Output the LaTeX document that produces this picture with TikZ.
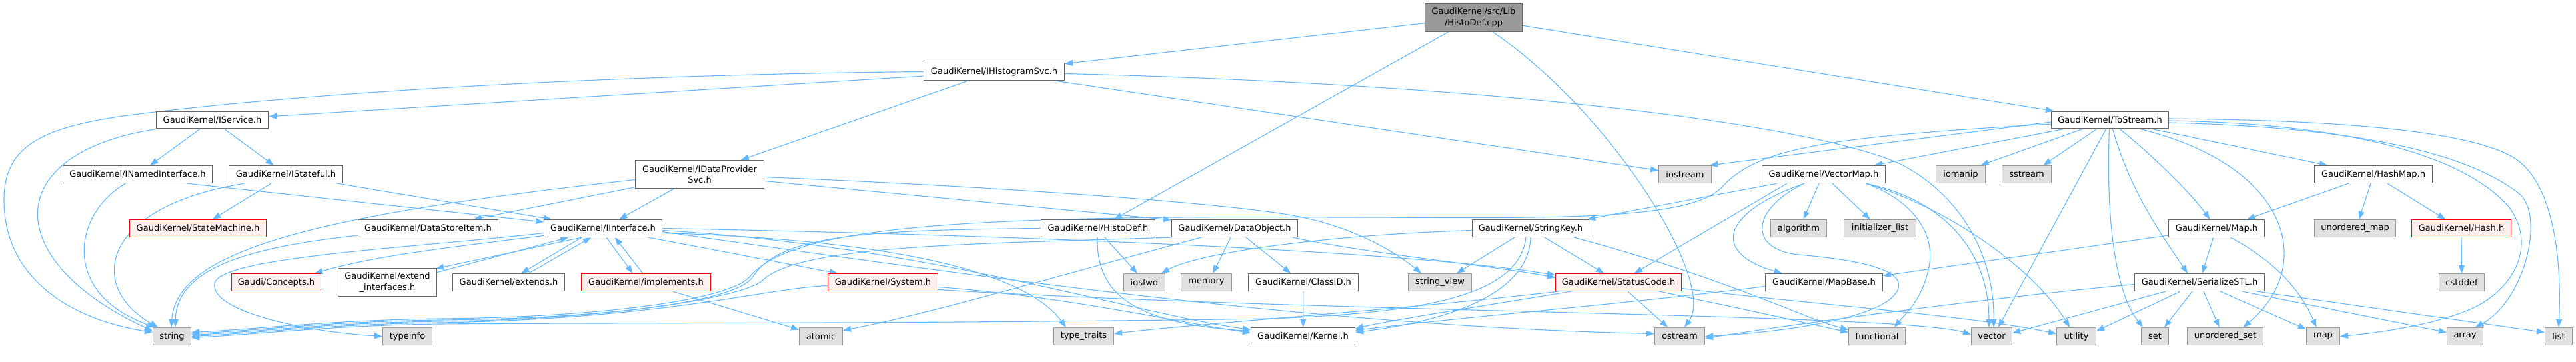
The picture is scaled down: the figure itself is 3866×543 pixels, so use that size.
\documentclass[tikz,border=0pt]{standalone}
\usepackage{fontspec}
\setmainfont{DejaVu Sans}
\usetikzlibrary{calc,arrows.meta}
\pgfdeclarelayer{bg}
\pgfsetlayers{bg,main}
\definecolor{edgecol}{HTML}{63B8FF}
\definecolor{ndborder}{HTML}{666666}
\definecolor{sysborder}{HTML}{999999}
\definecolor{sysfill}{HTML}{E0E0E0}
\definecolor{redfill}{HTML}{FFF0F0}
\definecolor{redborder}{HTML}{FF0000}
\definecolor{rootfill}{HTML}{999999}
\newcommand{\dfont}{\fontsize{13}{16.5}\selectfont}
\tikzset{
  nd/.style={draw=ndborder, fill=white, line width=1.2pt, inner sep=0pt, font=\dfont, align=center, minimum height=26pt},
  sysnd/.style={nd, draw=sysborder, fill=sysfill},
  rednd/.style={nd, draw=redborder, fill=redfill},
  rootnd/.style={nd, draw=ndborder, fill=rootfill},
  e/.style={draw=edgecol, line width=1.1pt, -{Triangle[length=12pt,width=9pt]}},
}
\begin{document}
\begin{tikzpicture}[x=1pt,y=-1pt]
\path[use as bounding box] (0,0) rectangle (3866,543);
% row 0
\node[rootnd, minimum width=146pt, minimum height=42pt] (cpp) at (2211.5,26.5) {GaudiKernel/src/Lib\\/HistoDef.cpp};
% row 1
\node[nd, minimum width=211pt] (ihs) at (1492,107.5) {GaudiKernel/IHistogramSvc.h};
% row 2
\node[nd, minimum width=168pt] (isvc) at (318.5,180) {GaudiKernel/IService.h};
\node[nd, minimum width=176pt] (tostr) at (3166.5,180) {GaudiKernel/ToStream.h};
% row 3
\node[nd, minimum width=224pt] (inamed) at (206.5,261.5) {GaudiKernel/INamedInterface.h};
\node[nd, minimum width=171pt] (istate) at (429,261.5) {GaudiKernel/IStateful.h};
\node[nd, minimum width=193pt, minimum height=42pt] (idp) at (1050,261.5) {GaudiKernel/IDataProvider\\Svc.h};
\node[sysnd, minimum width=79pt] (iostr) at (2529,261.5) {iostream};
\node[nd, minimum width=185pt] (vmap) at (2737,261.5) {GaudiKernel/VectorMap.h};
\node[sysnd, minimum width=74pt] (iomanip) at (2942.5,261.5) {iomanip};
\node[sysnd, minimum width=74pt] (sstream) at (3041.5,261.5) {sstream};
\node[nd, minimum width=177pt] (hmap) at (3562,261.5) {GaudiKernel/HashMap.h};
% row 4
\node[rednd, minimum width=205pt] (statem) at (297,342.5) {GaudiKernel/StateMachine.h};
\node[nd, minimum width=210pt] (dsi) at (642.5,342.5) {GaudiKernel/DataStoreItem.h};
\node[nd, minimum width=177pt] (iif) at (905,342.5) {GaudiKernel/IInterface.h};
\node[nd, minimum width=171pt] (hdef) at (1648,342.5) {GaudiKernel/HistoDef.h};
\node[nd, minimum width=189pt] (dobj) at (1853,342.5) {GaudiKernel/DataObject.h};
\node[nd, minimum width=175pt] (skey) at (2297,342.5) {GaudiKernel/StringKey.h};
\node[sysnd, minimum width=84pt] (algo) at (2699.5,342.5) {algorithm};
\node[sysnd, minimum width=108pt] (initl) at (2821.5,342.5) {initializer\_list};
\node[nd, minimum width=144pt] (mapH) at (3326.5,342.5) {GaudiKernel/Map.h};
\node[sysnd, minimum width=122pt] (umap) at (3534.5,342.5) {unordered\_map};
\node[rednd, minimum width=149pt] (hash) at (3694,342.5) {GaudiKernel/Hash.h};
% row 5
\node[rednd, minimum width=134pt] (concepts) at (414.5,423.5) {Gaudi/Concepts.h};
\node[nd, minimum width=148pt, minimum height=42pt] (extif) at (581.5,423.5) {GaudiKernel/extend\\\_interfaces.h};
\node[nd, minimum width=168pt] (extends) at (763.5,423.5) {GaudiKernel/extends.h};
\node[rednd, minimum width=194pt] (impl) at (969.5,423.5) {GaudiKernel/implements.h};
\node[rednd, minimum width=165pt] (sys) at (1325,423.5) {GaudiKernel/System.h};
\node[sysnd, minimum width=62pt] (iosfwd) at (1717.5,423.5) {iosfwd};
\node[sysnd, minimum width=76pt] (memory) at (1810.5,423.5) {memory};
\node[nd, minimum width=165pt] (classid) at (1956,423.5) {GaudiKernel/ClassID.h};
\node[sysnd, minimum width=95pt] (sview) at (2161,423.5) {string\_view};
\node[rednd, minimum width=189pt] (scode) at (2429,423.5) {GaudiKernel/StatusCode.h};
\node[nd, minimum width=176pt] (mapbase) at (2737.5,423.5) {GaudiKernel/MapBase.h};
\node[nd, minimum width=195pt] (sstl) at (3301,423.5) {GaudiKernel/SerializeSTL.h};
\node[sysnd, minimum width=68pt] (cstddef) at (3694.5,423.5) {cstddef};
% row 6
\node[sysnd, minimum width=57pt] (str) at (258,504.5) {string};
\node[sysnd, minimum width=74pt] (typeinfo) at (611.5,504.5) {typeinfo};
\node[sysnd, minimum width=65pt] (atomic) at (1232,504.5) {atomic};
\node[sysnd, minimum width=90pt] (ttraits) at (1626.5,504.5) {type\_traits};
\node[nd, minimum width=156pt] (kernel) at (1955.5,504.5) {GaudiKernel/Kernel.h};
\node[sysnd, minimum width=75pt] (ostr) at (2521,504.5) {ostream};
\node[sysnd, minimum width=85pt] (functional) at (2817,504.5) {functional};
\node[sysnd, minimum width=61pt] (vec) at (2989,504.5) {vector};
\node[sysnd, minimum width=59pt] (utility) at (3116,504.5) {utility};
\node[sysnd, minimum width=41pt] (set) at (3234,504.5) {set};
\node[sysnd, minimum width=114pt] (uset) at (3339.5,504.5) {unordered\_set};
\node[sysnd, minimum width=50pt] (map) at (3486.5,504.5) {map};
\node[sysnd, minimum width=54pt] (array) at (3699.5,504.5) {array};
\node[sysnd, minimum width=41pt] (list) at (3840,504.5) {list};

\begin{pgfonlayer}{bg}
% cpp
\draw[e] (cpp) -- (ihs);
\draw[e] (cpp) -- (hdef);
\draw[e] (cpp) -- (tostr);
\draw[e] ($(cpp.south)+(29,0)$) .. controls (2420,170) and (2577,424) .. ($(ostr.north)+(7,0)$);
% IHistogramSvc
\draw[e] (ihs) -- (isvc);
\draw[e] (ihs.west) .. controls (900,112) and (450,140) .. (200,172) .. controls (60,190) and (6,220) .. (6,300) .. controls (6,420) and (110,480) .. ($(str.west)+(0,-6)$);
\draw[e] (ihs) -- (idp);
\draw[e] (ihs) -- (iostr);
\draw[e] ($(ihs.east)+(0,3)$) .. controls (2200,125) and (2700,180) .. (2850,245) .. controls (2940,290) and (2993,380) .. ($(vec.north)+(3,0)$);
% IService
\draw[e] (isvc) -- (inamed);
\draw[e] (isvc) -- (istate);
\draw[e] (isvc.south west) .. controls (0,230) and (0,390) .. ($(str.west)+(0,-8)$);
% INamedInterface
\draw[e] ($(inamed.south east)+(-39,0)$) -- ($(iif.north west)+(0,4)$);
\draw[e] ($(inamed.south)+(-18,0)$) .. controls (110,320) and (90,440) .. ($(str.north west)+(4,0)$);
% IStateful
\draw[e] ($(istate.south east)+(-9,0)$) -- ($(iif.north west)+(12,0)$);
\draw[e] (istate) -- (statem);
\draw[e] ($(istate.south west)+(24,0)$) .. controls (150,310) and (130,430) .. ($(str.north west)+(8,0)$);
% IDataProviderSvc
\draw[e] (idp) -- (dsi);
\draw[e] (idp) -- (iif);
\draw[e] ($(idp.east)+(0,10)$) -- ($(dobj.north west)+(0,1)$);
\draw[e] ($(idp.east)+(0,4)$) .. controls (1500,280) and (1850,305) .. (1950,325) .. controls (2030,341) and (2090,375) .. ($(sview.north)+(-28,0)$);
\draw[e] ($(idp.west)+(0,8)$) .. controls (500,320) and (265,370) .. ($(str.north)+(-1,0)$);
% DataStoreItem
\draw[e] ($(dsi.south west)+(0,-3)$) .. controls (380,370) and (265,400) .. ($(str.north)+(5,0)$);
% IInterface
\draw[e] ($(iif.west)+(0,11)$) .. controls (640,375) and (560,385) .. ($(concepts.north east)+(-10,0)$);
\draw[e] ($(iif.west)+(0,7)$) .. controls (620,372) and (330,385) .. (322,425) .. controls (314,465) and (450,497) .. (typeinfo.west);
\draw[e] ($(iif.south)+(-32,0)$) -- ($(extif.north east)+(-2,1)$);
\draw[e] ($(extif.east)+(0,-15)$) -- ($(iif.south)+(-52,0)$);
\draw[e] ($(iif.south)+(-32,0)$) -- ($(extends.north)+(19,0)$);
\draw[e] ($(extends.north)+(30,0)$) -- ($(iif.south)+(-18,0)$);
\draw[e] ($(iif.south)+(5,0)$) -- ($(impl.north)+(-20,0)$);
\draw[e] ($(impl.north)+(-5,0)$) -- ($(iif.south)+(18,0)$);
\draw[e] ($(iif.south)+(68,0)$) -- ($(sys.north west)+(15,0)$);
\draw[e] (iif.east) .. controls (1500,352) and (2100,375) .. ($(scode.west)+(0,-11)$);
\draw[e] ($(iif.east)+(0,3)$) .. controls (1400,370) and (1700,470) .. ($(kernel.west)+(0,-10)$);
\draw[e] ($(iif.east)+(0,5)$) .. controls (1500,420) and (2000,490) .. ($(ostr.west)+(0,-4)$);
\draw[e] ($(iif.east)+(0,7)$) .. controls (1350,360) and (1540,410) .. ($(ttraits.north west)+(19,0)$);
% implements
\draw[e] ($(impl.south)+(40,0)$) -- ($(atomic.west)+(0,-10)$);
% System
\draw[e] ($(sys.east)+(0,7)$) .. controls (1600,445) and (1750,480) .. ($(kernel.west)+(0,-5)$);
\draw[e] ($(sys.east)+(0,11)$) .. controls (2000,470) and (2850,470) .. ($(vec.west)+(0,-3)$);
\draw[e] ($(sys.west)+(0,5)$) .. controls (1150,432) and (1000,478) .. (660,484) .. controls (500,486) and (380,500) .. (str.east);
% HistoDef.h
\draw[e] ($(hdef.south)+(-1,0)$) .. controls (1645,440) and (1700,485) .. ($(kernel.west)+(0,-8)$);
\draw[e] ($(hdef.south)+(10,0)$) -- ($(iosfwd.north west)+(21,0)$);
\draw[e] (hdef.west) .. controls (1300,345) and (1170,352) .. (1130,415) .. controls (1105,454) and (900,478) .. (660,480) .. controls (500,482) and (380,496) .. ($(str.east)+(0,-4)$);
% DataObject
\draw[e] ($(dobj.south)+(17,0)$) -- ($(classid.north)+(-19,0)$);
\draw[e] ($(dobj.south)+(-6,0)$) -- ($(memory.north)+(10,0)$);
\draw[e] ($(dobj.south)+(-50,0)$) .. controls (1600,410) and (1400,470) .. ($(atomic.east)+(0,-9)$);
\draw[e] ($(dobj.south east)+(-8,0)$) .. controls (2050,380) and (2250,400) .. ($(scode.west)+(0,-7)$);
\draw[e] (dobj.south west) .. controls (1450,366) and (1200,368) .. (1145,420) .. controls (1115,448) and (900,480) .. (660,482) .. controls (500,484) and (380,498) .. ($(str.east)+(0,-2)$);
% ClassID
\draw[e] (classid) -- (kernel);
% StringKey
\draw[e] ($(skey.south west)+(64,0)$) -- ($(sview.north east)+(-23,0)$);
\draw[e] ($(skey.west)+(0,3)$) .. controls (2000,352) and (1800,378) .. ($(iosfwd.north east)+(-6,0)$);
\draw[e] ($(skey.south)+(21,0)$) -- ($(scode.north)+(-22,0)$);
\draw[e] ($(skey.south east)+(-23,0)$) .. controls (2600,420) and (2700,475) .. ($(functional.west)+(0,-10)$);
\draw[e] (skey.south) .. controls (2295,430) and (2200,478) .. ($(kernel.east)+(0,-6)$);
\draw[e] ($(skey.south)+(-7,0)$) .. controls (2280,440) and (2150,470) .. (1900,478) .. controls (1400,486) and (900,484) .. (660,486) .. controls (500,488) and (380,502) .. ($(str.east)+(0,2)$);
% StatusCode
\draw[e] ($(scode.south west)+(24,0)$) .. controls (2250,455) and (2100,478) .. ($(kernel.east)+(0,-12)$);
\draw[e] ($(scode.south west)+(5,0)$) .. controls (2100,465) and (1800,485) .. ($(ttraits.east)+(0,-4)$);
\draw[e] ($(scode.south)+(14,0)$) -- ($(ostr.north)+(-18,0)$);
\draw[e] ($(scode.south east)+(-34,0)$) .. controls (2600,460) and (2700,482) .. ($(functional.west)+(0,-6)$);
\draw[e] ($(scode.east)+(0,9)$) .. controls (2700,455) and (2950,472) .. ($(utility.west)+(0,-4)$);
% VectorMap
\draw[e] ($(vmap.south)+(-7,0)$) -- ($(algo.north)+(7,0)$);
\draw[e] ($(vmap.south)+(13,0)$) -- ($(initl.north)+(-15,0)$);
\draw[e] ($(vmap.south)+(-29,0)$) .. controls (2580,320) and (2570,380) .. ($(mapbase.north)+(-63,0)$);
\draw[e] ($(vmap.south)+(-29,0)$) .. controls (2625,315) and (2625,375) .. (2700,382) .. controls (2790,390) and (2870,405) .. (2845,440) .. controls (2815,482) and (2650,500) .. (ostr.east);
\draw[e] ($(vmap.south east)+(-30,0)$) .. controls (2870,300) and (2905,350) .. (2895,400) .. controls (2885,450) and (2860,470) .. ($(functional.north)+(26,0)$);
\draw[e] ($(vmap.south east)+(-30,0)$) .. controls (2920,310) and (3050,400) .. ($(utility.north)+(-10,0)$);
\draw[e] ($(vmap.south east)+(-30,0)$) .. controls (2920,300) and (2985,380) .. ($(vec.north)+(-4,0)$);
\draw[e] ($(vmap.south west)+(38,0)$) -- ($(scode.north)+(24,0)$);
\draw[e] ($(vmap.south west)+(23,0)$) -- ($(skey.north east)+(-3,0)$);
% MapBase
\draw[e] ($(mapbase.west)+(0,6)$) .. controls (2450,455) and (2200,475) .. ($(kernel.east)+(0,-9)$);
% ToStream
\draw[e] ($(tostr.west)+(0,3)$) -- ($(iostr.north east)+(-3,0)$);
\draw[e] ($(tostr.west)+(0,6)$) .. controls (2750,205) and (2640,220) .. (2585,280) .. controls (2535,335) and (2300,326) .. (2000,326) .. controls (1400,322) and (1185,345) .. (1125,415) .. controls (1095,450) and (900,476) .. (660,478) .. controls (500,480) and (380,494) .. ($(str.east)+(0,-6)$);
\draw[e] ($(tostr.south west)+(19,0)$) -- ($(vmap.north east)+(-17,0)$);
\draw[e] ($(tostr.south west)+(47,0)$) -- ($(iomanip.north)+(30,0)$);
\draw[e] ($(tostr.south)+(-20,0)$) -- ($(sstream.north)+(25,0)$);
\draw[e] ($(tostr.south)+(-6,0)$) -- ($(vec.north)+(10,0)$);
\draw[e] ($(tostr.south)+(-1,0)$) .. controls (3160,330) and (3175,440) .. ($(set.north west)+(3,0)$);
\draw[e] ($(tostr.south)+(4,0)$) .. controls (3195,280) and (3235,340) .. ($(sstl.north)+(-18,0)$);
\draw[e] ($(tostr.south)+(15,0)$) .. controls (3220,225) and (3280,280) .. ($(mapH.north)+(-10,0)$);
\draw[e] ($(tostr.south east)+(-43,0)$) .. controls (3440,250) and (3475,400) .. ($(uset.north)+(27,0)$);
\draw[e] ($(tostr.south east)+(-25,0)$) -- ($(hmap.north west)+(20,0)$);
\draw[e] ($(tostr.east)+(0,-2)$) .. controls (3500,180) and (3700,195) .. (3770,235) .. controls (3830,269) and (3845,380) .. (list.north);
\draw[e] ($(tostr.east)+(0,4)$) .. controls (3500,190) and (3690,220) .. (3780,290) .. controls (3820,321) and (3790,450) .. ($(array.north east)+(-12,0)$);
\draw[e] ($(tostr.east)+(0,1)$) .. controls (3500,185) and (3690,225) .. (3765,310) .. controls (3810,370) and (3770,440) .. (3700,467) .. controls (3640,490) and (3560,500) .. (map.east);
% Map / HashMap / Hash
\draw[e] ($(mapH.south west)+(0,-3)$) -- ($(mapbase.east)+(0,-10)$);
\draw[e] ($(mapH.south)+(-5,0)$) -- ($(sstl.north)+(4,0)$);
\draw[e] ($(mapH.south)+(21,0)$) .. controls (3410,390) and (3450,430) .. ($(map.north)+(-10,0)$);
\draw[e] ($(hmap.south)+(-4,0)$) -- ($(umap.north)+(6,0)$);
\draw[e] ($(hmap.south)+(21,0)$) -- ($(hash.north)+(-24,0)$);
\draw[e] ($(hmap.south west)+(52,0)$) -- ($(mapH.north east)+(-27,0)$);
\draw[e] (hash) -- (cstddef);
% SerializeSTL
\draw[e] ($(sstl.south)+(-11,0)$) -- ($(set.north)+(14,0)$);
\draw[e] ($(sstl.south)+(6,0)$) -- ($(uset.north)+(-9,0)$);
\draw[e] ($(sstl.south)+(31,0)$) -- ($(map.north west)+(0,3)$);
\draw[e] ($(sstl.south east)+(-34,0)$) -- ($(array.west)+(0,-6)$);
\draw[e] ($(sstl.south east)+(-12,0)$) -- ($(list.west)+(0,-6)$);
\draw[e] ($(sstl.south)+(-51,0)$) -- ($(vec.east)+(0,-5)$);
\draw[e] ($(sstl.south)+(-29,0)$) -- ($(utility.east)+(0,-8)$);
\draw[e] ($(sstl.west)+(0,3)$) .. controls (3000,445) and (2700,485) .. ($(ostr.east)+(0,3)$);
\end{pgfonlayer}
\end{tikzpicture}
\end{document}
